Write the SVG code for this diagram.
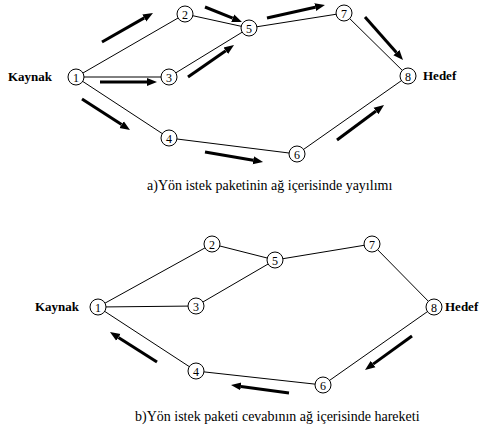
<svg xmlns="http://www.w3.org/2000/svg" width="485" height="430" viewBox="0 0 485 430">
<style>
.edge{stroke:#000;stroke-width:1;fill:none}
.arr{stroke:#000;stroke-width:3;fill:none;marker-end:url(#ah)}
.node circle{fill:#fff;stroke:#000;stroke-width:1}
.node text{font-family:"Liberation Serif","Times New Roman","DejaVu Serif",serif;font-size:12px;text-anchor:middle;fill:#000}
.lbl{font-family:"Liberation Serif","Times New Roman","DejaVu Serif",serif;font-size:13px;font-weight:bold;fill:#000}
.cap{font-family:"Liberation Serif","Times New Roman","DejaVu Serif",serif;font-size:14px;fill:#000}
</style>
<defs>
<marker id="ah" markerUnits="userSpaceOnUse" markerWidth="12" markerHeight="10" viewBox="0 -5 12 10" refX="0" refY="0" orient="auto">
<path d="M0,-4 L10,0 L0,4 z" fill="#000"/>
</marker>
</defs>
<rect width="485" height="430" fill="#fff"/>
<g id="connectors">
<line class="edge" x1="76" y1="77" x2="185" y2="14"/>
<line class="edge" x1="76" y1="77" x2="169" y2="77"/>
<line class="edge" x1="76" y1="77" x2="169" y2="138"/>
<line class="edge" x1="185" y1="14" x2="249" y2="28"/>
<line class="edge" x1="169" y1="77" x2="249" y2="28"/>
<line class="edge" x1="169" y1="138" x2="297" y2="154"/>
<line class="edge" x1="249" y1="28" x2="344" y2="13"/>
<line class="edge" x1="344" y1="13" x2="408" y2="76"/>
<line class="edge" x1="297" y1="154" x2="408" y2="76"/>
<line class="arr" x1="102" y1="42" x2="144.3" y2="17.9"/>
<line class="arr" x1="205" y1="7" x2="232.7" y2="18.2"/>
<line class="arr" x1="100" y1="82" x2="147" y2="82"/>
<line class="arr" x1="188" y1="77" x2="225.8" y2="50.7"/>
<line class="arr" x1="82" y1="99" x2="121.6" y2="124.6"/>
<line class="arr" x1="205" y1="152" x2="253.2" y2="160.3"/>
<line class="arr" x1="267" y1="18" x2="315.2" y2="7.2"/>
<line class="arr" x1="365" y1="17" x2="396.4" y2="52.5"/>
<line class="arr" x1="337" y1="140" x2="376" y2="111"/>
<line class="edge" x1="98" y1="307" x2="212" y2="244"/>
<line class="edge" x1="98" y1="307" x2="196" y2="306"/>
<line class="edge" x1="98" y1="307" x2="196" y2="371"/>
<line class="edge" x1="212" y1="244" x2="275" y2="260"/>
<line class="edge" x1="196" y1="306" x2="275" y2="260"/>
<line class="edge" x1="196" y1="371" x2="323" y2="385"/>
<line class="edge" x1="275" y1="260" x2="372" y2="244"/>
<line class="edge" x1="372" y1="244" x2="434" y2="307"/>
<line class="edge" x1="323" y1="385" x2="434" y2="307"/>
<line class="arr" x1="157" y1="362" x2="118.4" y2="337.4"/>
<line class="arr" x1="289" y1="393" x2="240.9" y2="386.4"/>
<line class="arr" x1="412" y1="336" x2="373.1" y2="364.1"/>
</g>
<g id="a1" class="node"><circle cx="76" cy="77" r="8"/><text x="76" y="81.5">1</text></g>
<g id="a2" class="node"><circle cx="185" cy="14" r="8"/><text x="185" y="18.5">2</text></g>
<g id="a3" class="node"><circle cx="169" cy="77" r="8"/><text x="169" y="81.5">3</text></g>
<g id="a4" class="node"><circle cx="169" cy="138" r="8"/><text x="169" y="142.5">4</text></g>
<g id="a5" class="node"><circle cx="249" cy="28" r="8"/><text x="249" y="32.5">5</text></g>
<g id="a6" class="node"><circle cx="297" cy="154" r="8"/><text x="297" y="158.5">6</text></g>
<g id="a7" class="node"><circle cx="344" cy="13" r="8"/><text x="344" y="17.5">7</text></g>
<g id="a8" class="node"><circle cx="408" cy="76" r="8"/><text x="408" y="80.5">8</text></g>
<text class="lbl" x="8" y="81">Kaynak</text>
<text class="lbl" x="423" y="80">Hedef</text>
<text class="cap" x="147" y="190">a)Yön istek paketinin ağ içerisinde yayılımı</text>
<g id="b1" class="node"><circle cx="98" cy="307" r="8"/><text x="98" y="311.5">1</text></g>
<g id="b2" class="node"><circle cx="212" cy="244" r="8"/><text x="212" y="248.5">2</text></g>
<g id="b3" class="node"><circle cx="196" cy="306" r="8"/><text x="196" y="310.5">3</text></g>
<g id="b4" class="node"><circle cx="196" cy="371" r="8"/><text x="196" y="375.5">4</text></g>
<g id="b5" class="node"><circle cx="275" cy="260" r="8"/><text x="275" y="264.5">5</text></g>
<g id="b6" class="node"><circle cx="323" cy="385" r="8"/><text x="323" y="389.5">6</text></g>
<g id="b7" class="node"><circle cx="372" cy="244" r="8"/><text x="372" y="248.5">7</text></g>
<g id="b8" class="node"><circle cx="434" cy="307" r="8"/><text x="434" y="311.5">8</text></g>
<text class="lbl" x="35" y="311">Kaynak</text>
<text class="lbl" x="445" y="311">Hedef</text>
<text class="cap" x="135" y="421">b)Yön istek paketi cevabının ağ içerisinde hareketi</text>
</svg>
